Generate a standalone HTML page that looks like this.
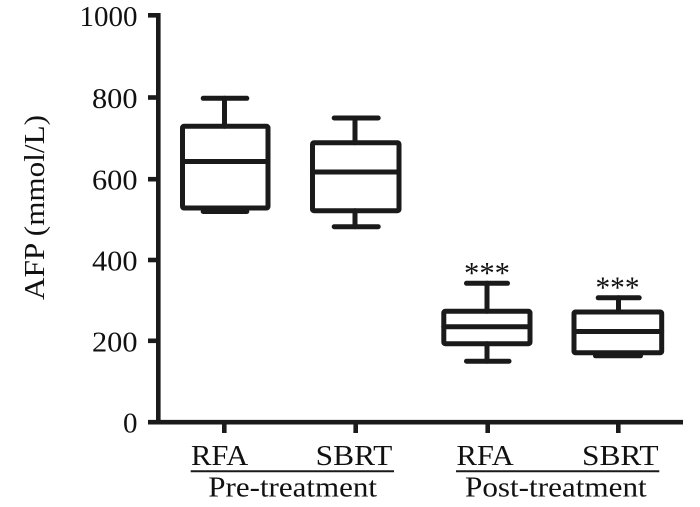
<!DOCTYPE html>
<html><head><meta charset="utf-8"><style>
html,body{margin:0;padding:0;background:#fff;}
svg{display:block;}
svg text{font-family:"Liberation Serif","Tinos","Times New Roman","Times","Nimbus Roman",serif;fill:#111;}
</style></head><body>
<svg width="700" height="507" viewBox="0 0 700 507" xmlns="http://www.w3.org/2000/svg" font-family="'Liberation Serif', 'Times New Roman', serif">
<g stroke="#1a1a1a" fill="none" stroke-width="4.6">
  <line x1="158.3" y1="13" x2="158.3" y2="424"/>
  <line x1="148" y1="422.2" x2="683" y2="422.2"/>
  <line x1="148" y1="15.3" x2="158" y2="15.3"/>
  <line x1="148" y1="97.5" x2="158" y2="97.5"/>
  <line x1="148" y1="179.2" x2="158" y2="179.2"/>
  <line x1="148" y1="260" x2="158" y2="260"/>
  <line x1="148" y1="340.8" x2="158" y2="340.8"/>
  <line x1="224.3" y1="422" x2="224.3" y2="433"/>
  <line x1="355.7" y1="422" x2="355.7" y2="433"/>
  <line x1="487.7" y1="422" x2="487.7" y2="433"/>
  <line x1="618.3" y1="422" x2="618.3" y2="433"/>
</g>
<g stroke="#1a1a1a" fill="none" stroke-width="5" stroke-linejoin="round" stroke-linecap="round">
  <rect x="182.5" y="126.3" width="85.5" height="81.7" rx="1.5"/>
  <line x1="182.5" y1="161.5" x2="268" y2="161.5"/>
  <line x1="224.5" y1="98.3" x2="224.5" y2="126.3"/>
  <line x1="203.2" y1="98.3" x2="246.8" y2="98.3"/>
  <line x1="203.2" y1="211.5" x2="246.8" y2="211.5"/>
  <rect x="312.5" y="142.7" width="86.5" height="68" rx="1.5"/>
  <line x1="312.5" y1="172" x2="399" y2="172"/>
  <line x1="355" y1="118" x2="355" y2="142.7"/>
  <line x1="355" y1="210.7" x2="355" y2="226.7"/>
  <line x1="334.2" y1="118" x2="378.2" y2="118"/>
  <line x1="334.2" y1="226.7" x2="378.2" y2="226.7"/>
  <rect x="443.8" y="311.3" width="86.2" height="32.4" rx="1.5"/>
  <line x1="443.8" y1="326.7" x2="530" y2="326.7"/>
  <line x1="487" y1="283.3" x2="487" y2="311.3"/>
  <line x1="487" y1="343.7" x2="487" y2="361.2"/>
  <line x1="466.5" y1="283.3" x2="507.5" y2="283.3"/>
  <line x1="466.5" y1="361.2" x2="509" y2="361.2"/>
  <rect x="574" y="312" width="87.7" height="40.8" rx="1.5"/>
  <line x1="574" y1="331.5" x2="661.7" y2="331.5"/>
  <line x1="618.5" y1="297.8" x2="618.5" y2="312"/>
  <line x1="598.2" y1="297.8" x2="639.2" y2="297.8"/>
  <line x1="595.5" y1="355.8" x2="640.5" y2="355.8"/>
</g>
<g font-size="29" text-anchor="end">
  <text x="137.5" y="26" textLength="58" lengthAdjust="spacingAndGlyphs">1000</text>
  <text x="137.5" y="108" textLength="45.5" lengthAdjust="spacingAndGlyphs">800</text>
  <text x="137.5" y="189.7" textLength="45.5" lengthAdjust="spacingAndGlyphs">600</text>
  <text x="137.5" y="270.5" textLength="45.5" lengthAdjust="spacingAndGlyphs">400</text>
  <text x="137.5" y="351.3" textLength="45.5" lengthAdjust="spacingAndGlyphs">200</text>
  <text x="137.5" y="432.7">0</text>
</g>
<text font-size="29" transform="translate(44,300) rotate(-90)" textLength="185" lengthAdjust="spacingAndGlyphs">AFP (mmol/L)</text>
<g font-size="29">
  <text x="191" y="465" textLength="57.3" lengthAdjust="spacingAndGlyphs">RFA</text>
  <text x="315.7" y="465" textLength="76.6" lengthAdjust="spacingAndGlyphs">SBRT</text>
  <text x="456.5" y="465" textLength="57.3" lengthAdjust="spacingAndGlyphs">RFA</text>
  <text x="582" y="465" textLength="76.6" lengthAdjust="spacingAndGlyphs">SBRT</text>
  <text x="208.3" y="496.5" textLength="168.7" lengthAdjust="spacingAndGlyphs">Pre-treatment</text>
  <text x="465" y="496.5" textLength="181.7" lengthAdjust="spacingAndGlyphs">Post-treatment</text>
</g>
<line x1="190.7" y1="471.2" x2="394" y2="471.2" stroke="#1a1a1a" stroke-width="2"/>
<line x1="456" y1="471.2" x2="659.3" y2="471.2" stroke="#1a1a1a" stroke-width="2"/>
<g font-size="31" text-anchor="middle">
  <text x="487" y="283" textLength="46" lengthAdjust="spacingAndGlyphs">***</text>
  <text x="617.5" y="297.5" textLength="44" lengthAdjust="spacingAndGlyphs">***</text>
</g>
</svg>
</body></html>
